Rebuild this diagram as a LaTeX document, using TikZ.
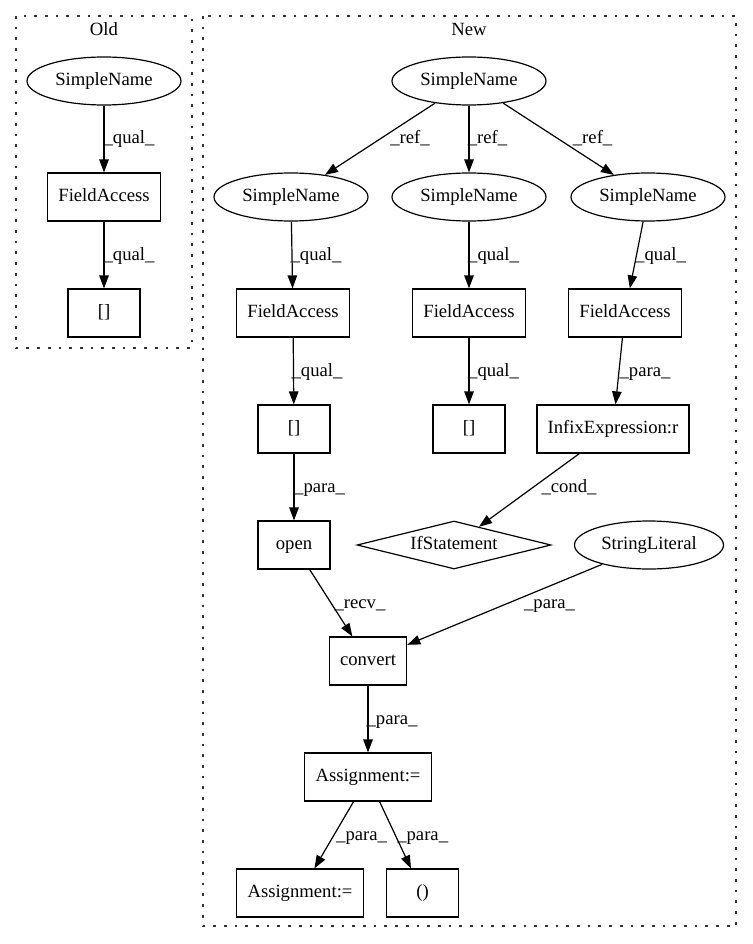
\documentclass[tikz,border=0pt]{standalone}
\usepackage{fontspec}
\setmainfont{Liberation Serif}
\usetikzlibrary{shapes.geometric,arrows.meta}
\begin{document}
\begin{tikzpicture}[x=1pt,y=-1pt,
  every node/.style={font=\fontsize{18.67}{22}\selectfont},
  box/.style={draw,line width=1.2pt,rectangle,minimum width=72pt,minimum height=48pt,inner xsep=10.67pt,inner ysep=0pt,text height=13pt,text depth=4pt},
  ell/.style={draw,line width=1.2pt,ellipse,minimum height=48pt,inner sep=0pt,text height=13pt,text depth=4pt},
  dia/.style={draw,line width=1.2pt,diamond,aspect=4,minimum width=194pt,minimum height=48pt,inner sep=0pt,text height=13pt,text depth=4pt},
  lbl/.style={anchor=base,inner sep=0pt},
  conn/.style={draw,line width=1.2pt,-{Triangle[length=13pt,width=9.5pt]}},
  clus/.style={draw=black!80,line width=1.3pt,dash pattern=on 2.7pt off 8pt}
]
\useasboundingbox (0,0) rectangle (752,944);

% clusters
\draw[clus] (16,16) rectangle (192,348);
\draw[clus] (203,16) rectangle (736,926);
\node[lbl] (tOld) at (104,36) {Old};
\node[lbl] (tNew) at (469,36) {New};

% Old
\node[ell,minimum width=154pt] (osn) at (104,81) {SimpleName};
\node[box] (ofa) at (104,197) {FieldAccess};
\node[box] (ob) at (104,313) {[]};
\draw[conn] (osn) -- (ofa);
\draw[conn] (ofa) -- (ob);
\node[lbl] (ol1) at (129,144) {\_qual\_};
\node[lbl] (ol2) at (129,260) {\_qual\_};

% New
\node[ell,minimum width=154pt] (sn0) at (469,81) {SimpleName};
\node[ell,minimum width=154pt] (sn1) at (291,197) {SimpleName};
\node[ell,minimum width=154pt] (sn2) at (469,197) {SimpleName};
\node[ell,minimum width=154pt] (sn3) at (648,197) {SimpleName};
\node[box] (fa1) at (293,313) {FieldAccess};
\node[box] (fa2) at (469,313) {FieldAccess};
\node[box] (fa3) at (625,313) {FieldAccess};
\node[box] (b1) at (294,429) {[]};
\node[box] (b2) at (469,429) {[]};
\node[box] (inf) at (613,429) {InfixExpression:r};
\node[box] (open) at (294,545) {open};
\node[dia] (ifs) at (454,545) {IfStatement};
\node[ell,minimum width=149pt] (str) at (649,545) {StringLiteral};
\node[box] (conv) at (368,661) {convert};
\node[box] (asg) at (368,777) {Assignment:=};
\node[box] (asg2) at (300,893) {Assignment:=};
\node[box] (par) at (422.5,893) {()};

\draw[conn] (sn0) -- (sn1);
\draw[conn] (sn0) -- (sn2);
\draw[conn] (sn0) -- (sn3);
\draw[conn] (sn1) -- (fa1);
\draw[conn] (sn2) -- (fa2);
\draw[conn] (sn3) -- (fa3);
\draw[conn] (fa1) -- (b1);
\draw[conn] (fa2) -- (b2);
\draw[conn] (fa3) -- (inf);
\draw[conn] (b1) -- (open);
\draw[conn] (inf) -- (ifs);
\draw[conn] (open) -- (conv);
\draw[conn] (str) -- (conv);
\draw[conn] (conv) -- (asg);
\draw[conn] (asg) -- (asg2);
\draw[conn] (asg) -- (par);

\node[lbl] (l1) at (410,144) {\_ref\_};
\node[lbl] (l2) at (487.5,144) {\_ref\_};
\node[lbl] (l3) at (592.6,144) {\_ref\_};
\node[lbl] (l4) at (316,260) {\_qual\_};
\node[lbl] (l5) at (493.6,260) {\_qual\_};
\node[lbl] (l6) at (660.6,260) {\_qual\_};
\node[lbl] (l7) at (317,376) {\_qual\_};
\node[lbl] (l8) at (493.6,376) {\_qual\_};
\node[lbl] (l9) at (645,376) {\_para\_};
\node[lbl] (l10) at (319.6,492) {\_para\_};
\node[lbl] (l11) at (569,492) {\_cond\_};
\node[lbl] (l12) at (360,608) {\_recv\_};
\node[lbl] (l13) at (549.5,608) {\_para\_};
\node[lbl] (l14) at (392,724) {\_para\_};
\node[lbl] (l15) at (361.6,840) {\_para\_};
\node[lbl] (l16) at (422.7,840) {\_para\_};
\end{tikzpicture}
\end{document}
